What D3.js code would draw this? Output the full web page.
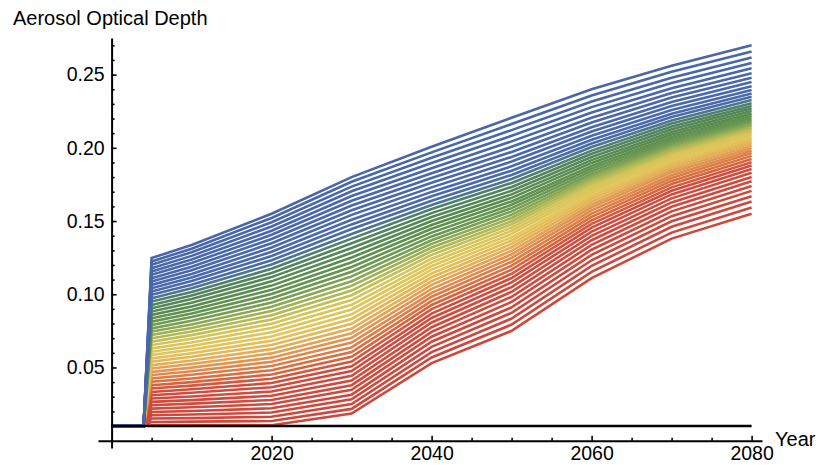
<!DOCTYPE html>
<html>
<head>
<meta charset="utf-8">
<script src="https://cdn.jsdelivr.net/npm/d3@7"></script>
<style>
  body { margin: 0; background: #fff; }
  svg { display: block; }
  text { font-family: "Liberation Sans", Arial, Helvetica, sans-serif; fill: #000; }
</style>
</head>
<body>
<svg id="chart" width="819" height="465"></svg>
<script>
// Years at which every scenario is sampled
const years = [2000, 2004, 2005, 2010, 2020, 2030, 2040, 2050, 2060, 2070, 2080];
// Background optical depth before injection starts (also drawn as the black reference line)
const backgroundAOD = 0.01;

// Optical depth of each scenario (lowest to highest) at each sample year
const aod2005 = [0.0105,0.0128,0.0151,0.0174,0.0196,0.0219,0.0242,0.0265,0.0288,0.0311,0.0333,0.0356,0.0379,0.0402,0.0425,0.0448,0.0470,0.0493,0.0516,0.0539,0.0562,0.0585,0.0607,0.0630,0.0653,0.0676,0.0699,0.0722,0.0745,0.0767,0.0790,0.0813,0.0836,0.0859,0.0882,0.0904,0.0927,0.0950,0.0973,0.0996,0.1019,0.1041,0.1064,0.1087,0.1110,0.1133,0.1156,0.1178,0.1201,0.1224,0.1247];
const aod2010 = [0.0105,0.0130,0.0154,0.0179,0.0203,0.0228,0.0253,0.0277,0.0302,0.0327,0.0351,0.0376,0.0400,0.0425,0.0450,0.0474,0.0499,0.0524,0.0548,0.0573,0.0597,0.0622,0.0647,0.0671,0.0696,0.0721,0.0745,0.0770,0.0794,0.0819,0.0844,0.0868,0.0893,0.0917,0.0942,0.0967,0.0991,0.1016,0.1041,0.1065,0.1090,0.1114,0.1139,0.1164,0.1188,0.1213,0.1238,0.1262,0.1287,0.1311,0.1336];
const aod2020 = [0.0105,0.0134,0.0163,0.0192,0.0221,0.0250,0.0278,0.0307,0.0336,0.0365,0.0394,0.0423,0.0452,0.0481,0.0510,0.0539,0.0567,0.0596,0.0625,0.0654,0.0683,0.0712,0.0741,0.0770,0.0799,0.0828,0.0856,0.0885,0.0914,0.0943,0.0972,0.1001,0.1030,0.1059,0.1088,0.1117,0.1145,0.1174,0.1203,0.1232,0.1261,0.1290,0.1319,0.1348,0.1377,0.1406,0.1434,0.1463,0.1492,0.1521,0.1550];
const aod2030 = [0.0185,0.0217,0.0250,0.0282,0.0314,0.0347,0.0379,0.0411,0.0443,0.0476,0.0508,0.0540,0.0573,0.0605,0.0637,0.0670,0.0702,0.0734,0.0766,0.0799,0.0831,0.0863,0.0896,0.0928,0.0960,0.0993,0.1025,0.1057,0.1089,0.1122,0.1154,0.1186,0.1219,0.1251,0.1283,0.1316,0.1348,0.1380,0.1412,0.1445,0.1477,0.1509,0.1542,0.1574,0.1606,0.1639,0.1671,0.1703,0.1735,0.1768,0.1800];
const aod2040 = [0.0530,0.0568,0.0605,0.0641,0.0676,0.0710,0.0743,0.0775,0.0807,0.0838,0.0868,0.0898,0.0927,0.0955,0.0983,0.1010,0.1037,0.1064,0.1090,0.1116,0.1142,0.1168,0.1193,0.1218,0.1243,0.1269,0.1294,0.1319,0.1344,0.1369,0.1395,0.1421,0.1447,0.1473,0.1500,0.1527,0.1554,0.1582,0.1610,0.1639,0.1669,0.1699,0.1730,0.1762,0.1794,0.1827,0.1861,0.1896,0.1932,0.1969,0.2007];
const aod2050 = [0.0750,0.0793,0.0834,0.0873,0.0911,0.0948,0.0983,0.1017,0.1049,0.1081,0.1111,0.1140,0.1168,0.1195,0.1222,0.1248,0.1273,0.1297,0.1321,0.1344,0.1367,0.1389,0.1412,0.1434,0.1456,0.1478,0.1499,0.1521,0.1543,0.1566,0.1588,0.1611,0.1634,0.1658,0.1682,0.1707,0.1733,0.1760,0.1787,0.1815,0.1844,0.1874,0.1906,0.1938,0.1972,0.2007,0.2044,0.2082,0.2121,0.2162,0.2205];
const aod2060 = [0.1110,0.1153,0.1194,0.1232,0.1269,0.1304,0.1337,0.1369,0.1399,0.1428,0.1455,0.1481,0.1505,0.1529,0.1551,0.1573,0.1594,0.1613,0.1633,0.1651,0.1669,0.1687,0.1704,0.1721,0.1738,0.1755,0.1772,0.1789,0.1806,0.1823,0.1841,0.1859,0.1877,0.1897,0.1916,0.1937,0.1959,0.1981,0.2005,0.2029,0.2055,0.2083,0.2111,0.2141,0.2173,0.2206,0.2241,0.2278,0.2317,0.2357,0.2400];
const aod2070 = [0.1380,0.1421,0.1461,0.1498,0.1533,0.1566,0.1597,0.1627,0.1655,0.1682,0.1707,0.1730,0.1753,0.1774,0.1794,0.1813,0.1832,0.1849,0.1866,0.1882,0.1897,0.1912,0.1927,0.1942,0.1956,0.1970,0.1984,0.1998,0.2013,0.2028,0.2043,0.2058,0.2074,0.2091,0.2108,0.2127,0.2146,0.2166,0.2187,0.2210,0.2233,0.2258,0.2285,0.2313,0.2343,0.2374,0.2407,0.2442,0.2479,0.2519,0.2560];
const aod2080 = [0.1550,0.1592,0.1633,0.1670,0.1706,0.1740,0.1771,0.1801,0.1829,0.1855,0.1879,0.1902,0.1924,0.1945,0.1964,0.1982,0.1999,0.2015,0.2031,0.2046,0.2060,0.2073,0.2087,0.2100,0.2112,0.2125,0.2138,0.2150,0.2163,0.2177,0.2190,0.2204,0.2219,0.2235,0.2251,0.2268,0.2286,0.2305,0.2326,0.2348,0.2371,0.2395,0.2421,0.2449,0.2479,0.2510,0.2544,0.2580,0.2617,0.2658,0.2700];

// Axis ticks
const yMajorTicks = [0.05, 0.10, 0.15, 0.20, 0.25];
const yMinorTicks = [0.01,0.02,0.03,0.04,0.06,0.07,0.08,0.09,0.11,0.12,0.13,0.14,0.16,0.17,0.18,0.19,0.21,0.22,0.23,0.24,0.26,0.27];
const xMajorTicks = [2020, 2040, 2060, 2080];
const xMinorTicks = [2005, 2010, 2015, 2025, 2030, 2035, 2045, 2050, 2055, 2065, 2070, 2075];

// Colour ramp from the lowest scenario (red) to the highest (blue)
const rampPositions = [0, 0.20, 0.26, 0.31, 0.37, 0.42, 0.48, 0.53, 0.59, 0.66, 0.73, 0.77, 0.80, 1];
const rampColors = ["#cd473d", "#cf4d3e", "#d9703f", "#e08f52", "#e3b457", "#e3c55a", "#d5c559", "#a8b656", "#6e9a52", "#5a8c4f", "#52845f", "#4b6fa0", "#4a6aab", "#4967a8"];

const svg = d3.select("#chart");

const x = d3.scaleLinear().domain([1998.3, 2081.3]).range([98, 762]);
const y = d3.scaleLinear().domain([-0.005, 0.275]).range([448, 38]);
const color = d3.scaleLinear().domain(rampPositions).range(rampColors).interpolate(d3.interpolateRgb);

const byYear = [aod2005, aod2010, aod2020, aod2030, aod2040, aod2050, aod2060, aod2070, aod2080];
const nScen = aod2005.length;
const series = d3.range(nScen).map(i => {
  const vals = [backgroundAOD, backgroundAOD].concat(byYear.map(a => a[i]));
  return years.map((yr, j) => [yr, vals[j]]);
});

const line = d3.line().x(d => x(d[0])).y(d => y(d[1]));

svg.append("g")
  .selectAll("path")
  .data(series)
  .join("path")
  .attr("d", line)
  .attr("fill", "none")
  .attr("stroke", (d, i) => color(i / (nScen - 1)))
  .attr("stroke-width", 2.6)
  .attr("stroke-linejoin", "miter");

// Black reference line at the background value
svg.append("path")
  .datum([[years[0], backgroundAOD], [years[years.length - 1], backgroundAOD]])
  .attr("d", line)
  .attr("fill", "none")
  .attr("stroke", "#000")
  .attr("stroke-width", 2.4);

// Axes: ticks point inward, axes span the whole plot range
const yAxisX = x(2000);
const xAxisY = y(0);

svg.append("g").attr("transform", `translate(${yAxisX},0)`)
  .call(d3.axisLeft(y).tickValues(yMajorTicks).tickFormat(d3.format(".2f"))
    .tickSizeInner(-5).tickSizeOuter(0).tickPadding(7));
svg.append("g").attr("transform", `translate(${yAxisX},0)`)
  .call(d3.axisLeft(y).tickValues(yMinorTicks).tickFormat("").tickSizeInner(-3).tickSizeOuter(0))
  .call(g => g.select(".domain").remove());

svg.append("g").attr("transform", `translate(0,${xAxisY})`)
  .call(d3.axisBottom(x).tickValues(xMajorTicks).tickFormat(d3.format("d"))
    .tickSizeInner(-5).tickSizeOuter(0).tickPadding(5));
svg.append("g").attr("transform", `translate(0,${xAxisY})`)
  .call(d3.axisBottom(x).tickValues(xMinorTicks).tickFormat("").tickSizeInner(-3).tickSizeOuter(0))
  .call(g => g.select(".domain").remove());

svg.selectAll(".domain").attr("stroke", "#000").attr("stroke-width", 2);
svg.selectAll(".tick line").attr("stroke", "#000").attr("stroke-width", 1.6);
svg.selectAll(".tick text").attr("font-size", 19.5).attr("fill", "#000")
  .style("font-family", "'Liberation Sans', Arial, Helvetica, sans-serif");

svg.append("text").attr("x", 13).attr("y", 25).attr("font-size", 20).text("Aerosol Optical Depth");
svg.append("text").attr("x", 775).attr("y", 446).attr("font-size", 20).text("Year");
</script>
</body>
</html>
